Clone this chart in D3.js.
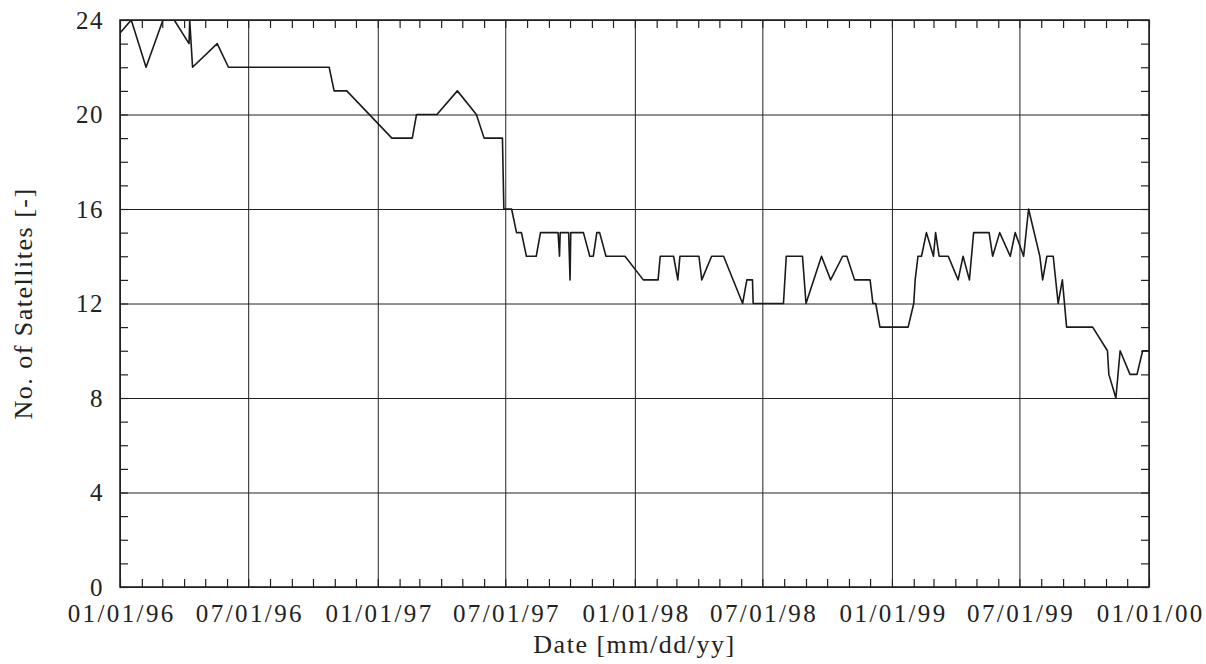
<!DOCTYPE html>
<html>
<head>
<meta charset="utf-8">
<script src="https://cdn.jsdelivr.net/npm/d3@7"></script>
<style>
  body { margin: 0; background: #fff; }
  text { font-family: "Liberation Serif", "DejaVu Serif", serif; fill: #222; }
</style>
</head>
<body>
<svg id="chart" width="1206" height="664"></svg>
<script>
// observation dates and number of satellites
const dates = [
  "1995-12-19", "1996-01-17", "1996-02-07", "1996-03-02", "1996-03-18", "1996-04-08",
  "1996-04-09", "1996-04-13", "1996-05-18", "1996-06-03", "1996-10-24", "1996-10-31",
  "1996-11-18", "1997-01-21", "1997-02-19", "1997-02-25", "1997-03-26", "1997-04-24",
  "1997-05-21", "1997-06-01", "1997-06-27", "1997-06-29", "1997-07-10", "1997-07-17",
  "1997-07-24", "1997-07-31", "1997-08-14", "1997-08-20", "1997-09-14", "1997-09-16",
  "1997-09-17", "1997-09-29", "1997-10-01", "1997-10-02", "1997-10-20", "1997-10-29",
  "1997-11-03", "1997-11-08", "1997-11-12", "1997-11-21", "1997-12-18", "1998-01-13",
  "1998-02-03", "1998-02-06", "1998-02-25", "1998-03-03", "1998-03-06", "1998-04-02",
  "1998-04-06", "1998-04-20", "1998-05-07", "1998-06-03", "1998-06-09", "1998-06-17",
  "1998-06-18", "1998-07-31", "1998-08-04", "1998-08-27", "1998-09-01", "1998-09-23",
  "1998-10-06", "1998-10-23", "1998-10-29", "1998-11-09", "1998-12-01", "1998-12-05",
  "1998-12-09", "1998-12-15", "1999-01-24", "1999-02-01", "1999-02-03", "1999-02-07",
  "1999-02-12", "1999-02-19", "1999-03-01", "1999-03-04", "1999-03-09", "1999-03-22",
  "1999-04-05", "1999-04-12", "1999-04-21", "1999-04-27", "1999-05-19", "1999-05-24",
  "1999-06-03", "1999-06-18", "1999-06-25", "1999-07-07", "1999-07-14", "1999-07-30",
  "1999-08-03", "1999-08-09", "1999-08-18", "1999-08-25", "1999-08-31", "1999-09-06",
  "1999-10-13", "1999-11-03", "1999-11-05", "1999-11-15", "1999-11-21", "1999-12-05",
  "1999-12-15", "1999-12-23", "2000-01-01"
];
const satellites = [
  23, 24, 22, 24, 24, 23,
  24, 22, 23, 22, 22, 21,
  21, 19, 19, 20, 20, 21,
  20, 19, 19, 16, 16, 15,
  15, 14, 14, 15, 15, 14,
  15, 15, 13, 15, 15, 14,
  14, 15, 15, 14, 14, 13,
  13, 14, 14, 13, 14, 14,
  13, 14, 14, 12, 13, 13,
  12, 12, 14, 14, 12, 14,
  13, 14, 14, 13, 13, 12,
  12, 11, 11, 12, 13, 14,
  14, 15, 14, 15, 14, 14,
  13, 14, 13, 15, 15, 14,
  15, 14, 15, 14, 16, 14,
  13, 14, 14, 12, 13, 11,
  11, 10, 9, 8, 10, 9,
  9, 10, 10
];
const xTicks = ["1996-01-01", "1996-07-01", "1997-01-01", "1997-07-01", "1998-01-01",
  "1998-07-01", "1999-01-01", "1999-07-01", "2000-01-01"];
const yTicks = [0, 4, 8, 12, 16, 20, 24];

const parse = d3.utcParse("%Y-%m-%d");
const data = dates.map((d, i) => ({ date: parse(d), value: satellites[i] }));

const margin = { top: 20, right: 57, bottom: 77, left: 120 };
const width = 1206, height = 664;
const svg = d3.select("#chart");

const x = d3.scaleUtc()
  .domain([parse(xTicks[0]), parse(xTicks[xTicks.length - 1])])
  .range([margin.left, width - margin.right]);
const y = d3.scaleLinear()
  .domain([0, 24])
  .range([height - margin.bottom, margin.top]);

const fmt = d3.utcFormat("%m/%d/%y");
const months = d3.utcMonth.range(x.domain()[0], d3.utcMonth.offset(x.domain()[1], 1));
const units = d3.range(0, 25);
const tickLen = 8;

const styleLines = (g, w) => g.selectAll(".tick line").attr("stroke", "#222").attr("stroke-width", w);

// gridlines
svg.append("g")
  .attr("transform", `translate(0,${y(0)})`)
  .call(d3.axisBottom(x).tickValues(xTicks.map(parse)).tickSize(-(y(0) - y(24))).tickFormat(""))
  .call(g => g.select(".domain").remove())
  .call(g => styleLines(g, 1));
svg.append("g")
  .attr("transform", `translate(${x.range()[0]},0)`)
  .call(d3.axisLeft(y).tickValues(yTicks).tickSize(-(x.range()[1] - x.range()[0])).tickFormat(""))
  .call(g => g.select(".domain").remove())
  .call(g => styleLines(g, 1));

// minor ticks, pointing inward on all four sides
svg.append("g")
  .attr("transform", `translate(0,${y(0)})`)
  .call(d3.axisBottom(x).tickValues(months).tickSize(-tickLen).tickFormat(""))
  .call(g => g.select(".domain").remove())
  .call(g => styleLines(g, 1.2));
svg.append("g")
  .attr("transform", `translate(0,${y(24)})`)
  .call(d3.axisTop(x).tickValues(months).tickSize(-tickLen).tickFormat(""))
  .call(g => g.select(".domain").remove())
  .call(g => styleLines(g, 1.2));
svg.append("g")
  .attr("transform", `translate(${x.range()[0]},0)`)
  .call(d3.axisLeft(y).tickValues(units).tickSize(-tickLen).tickFormat(""))
  .call(g => g.select(".domain").remove())
  .call(g => styleLines(g, 1.2));
svg.append("g")
  .attr("transform", `translate(${x.range()[1]},0)`)
  .call(d3.axisRight(y).tickValues(units).tickSize(-tickLen).tickFormat(""))
  .call(g => g.select(".domain").remove())
  .call(g => styleLines(g, 1.2));

// tick labels
svg.append("g")
  .attr("transform", `translate(0,${y(0)})`)
  .call(d3.axisBottom(x).tickValues(xTicks.map(parse)).tickSize(0).tickPadding(17).tickFormat(fmt))
  .call(g => g.select(".domain").remove())
  .call(g => g.selectAll("text")
    .attr("font-size", 25).attr("font-family", "Liberation Serif")
    .attr("letter-spacing", 2.4).attr("dx", 1.2));
svg.append("g")
  .attr("transform", `translate(${x.range()[0]},0)`)
  .call(d3.axisLeft(y).tickValues(yTicks).tickSize(0).tickPadding(16))
  .call(g => g.select(".domain").remove())
  .call(g => g.selectAll("text")
    .attr("font-size", 25).attr("font-family", "Liberation Serif").attr("letter-spacing", 1.5));

// clipped data line
svg.append("clipPath").attr("id", "clip")
  .append("rect")
  .attr("x", x.range()[0]).attr("y", y(24))
  .attr("width", x.range()[1] - x.range()[0]).attr("height", y(0) - y(24));

const line = d3.line().x(d => x(d.date)).y(d => y(d.value));
svg.append("path")
  .datum(data)
  .attr("clip-path", "url(#clip)")
  .attr("fill", "none")
  .attr("stroke", "#1a1a1a")
  .attr("stroke-width", 1.6)
  .attr("stroke-linejoin", "round")
  .attr("d", line);

// frame
svg.append("rect")
  .attr("x", x.range()[0]).attr("y", y(24))
  .attr("width", x.range()[1] - x.range()[0]).attr("height", y(0) - y(24))
  .attr("fill", "none").attr("stroke", "#222").attr("stroke-width", 1.6);

// axis titles
svg.append("text")
  .attr("x", (x.range()[0] + x.range()[1]) / 2)
  .attr("y", 653)
  .attr("text-anchor", "middle")
  .attr("font-size", 26)
  .attr("letter-spacing", 1.5)
  .text("Date [mm/dd/yy]");
svg.append("text")
  .attr("transform", `translate(32,${(y(0) + y(24)) / 2}) rotate(-90)`)
  .attr("text-anchor", "middle")
  .attr("font-size", 26)
  .attr("letter-spacing", 1.5)
  .text("No. of Satellites [-]");
</script>
</body>
</html>
